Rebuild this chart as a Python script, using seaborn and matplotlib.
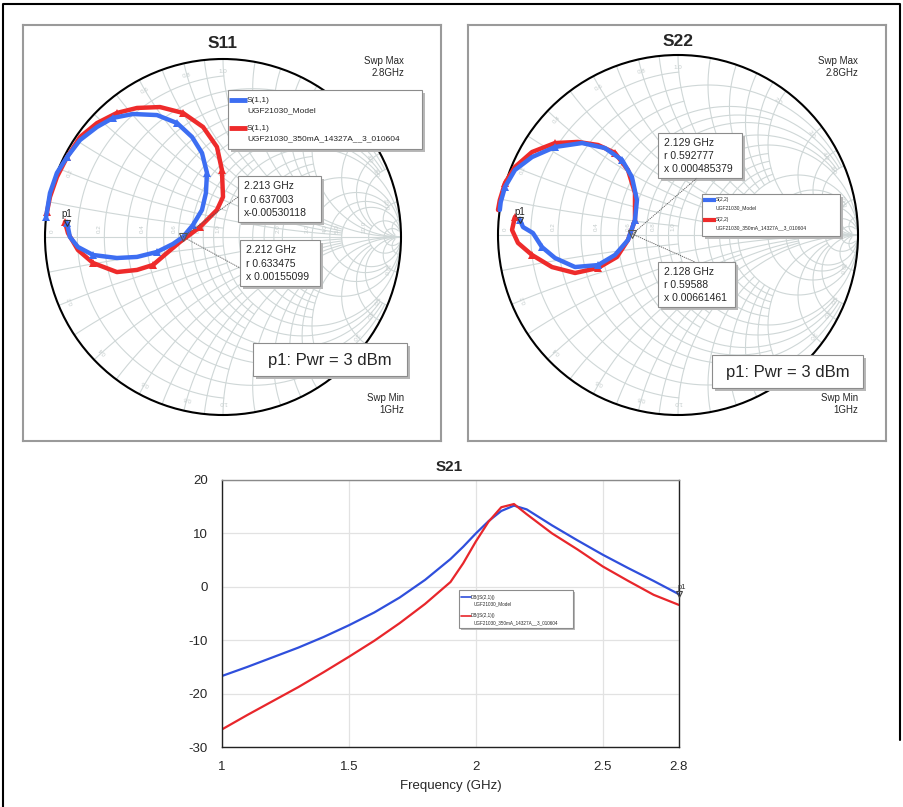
import numpy as np
import pandas as pd
import matplotlib
matplotlib.use('Agg')
import matplotlib.pyplot as plt
import seaborn as sns
from matplotlib.patches import Rectangle, Circle

W, H = 904, 807

s11_model_re = [-0.876, -0.860, -0.815, -0.730, -0.596, -0.483, -0.371, -0.281, -0.225, -0.169, -0.118, -0.096,
                -0.090, -0.118, -0.174, -0.258, -0.371, -0.506, -0.618, -0.708, -0.803, -0.876, -0.933, -0.972, -0.994]
s11_model_im = [0.079, 0.000, -0.056, -0.101, -0.118, -0.112, -0.084, -0.039, 0.000, 0.067, 0.152, 0.247,
                0.360, 0.472, 0.562, 0.640, 0.685, 0.691, 0.669, 0.618, 0.545, 0.449, 0.360, 0.247, 0.112]
s11_meas_re = [-0.888, -0.871, -0.815, -0.730, -0.596, -0.483, -0.393, -0.315, -0.242, -0.129, -0.034, 0.000,
               -0.006, -0.034, -0.112, -0.225, -0.354, -0.483, -0.596, -0.708, -0.803, -0.876, -0.933, -0.972, -0.989]
s11_meas_im = [0.084, 0.022, -0.073, -0.146, -0.197, -0.185, -0.157, -0.090, -0.028, 0.056, 0.152, 0.225,
               0.376, 0.506, 0.618, 0.697, 0.730, 0.725, 0.697, 0.640, 0.562, 0.449, 0.337, 0.225, 0.140]

# S22
s22_model_re = [-0.878, -0.861, -0.806, -0.756, -0.683, -0.572, -0.444, -0.350, -0.278, -0.239, -0.228,
                -0.256, -0.311, -0.406, -0.533, -0.683, -0.811, -0.906, -0.961, -0.985, -0.990]
s22_model_im = [0.083, 0.044, 0.011, -0.067, -0.128, -0.178, -0.167, -0.111, -0.028, 0.083, 0.194,
                0.322, 0.417, 0.483, 0.511, 0.489, 0.433, 0.361, 0.267, 0.183, 0.139]
s22_meas_re = [-0.906, -0.922, -0.889, -0.811, -0.700, -0.572, -0.444, -0.339, -0.278, -0.239, -0.239,
               -0.278, -0.350, -0.444, -0.556, -0.683, -0.811, -0.906, -0.961, -0.990, -1.000]
s22_meas_im = [0.100, 0.028, -0.044, -0.111, -0.178, -0.211, -0.183, -0.122, -0.028, 0.083, 0.233,
               0.361, 0.456, 0.500, 0.517, 0.511, 0.461, 0.378, 0.289, 0.194, 0.139]

# marker readouts (normalised r, x)
s11_markers = [('2.213 GHz', 0.637003, -0.00530118), ('2.212 GHz', 0.633475, 0.00155099)]
s22_markers = [('2.129 GHz', 0.592777, 0.000485379), ('2.128 GHz', 0.59588, 0.00661461)]

# S21 in dB
freq_ghz = [1.0, 1.1, 1.2, 1.3, 1.4, 1.5, 1.6, 1.7, 1.8, 1.9, 1.95, 2.0, 2.05, 2.1, 2.15,
            2.2, 2.3, 2.4, 2.5, 2.6, 2.7, 2.8]
s21_model_db = [-16.7, -15.0, -13.2, -11.4, -9.4, -7.2, -4.8, -2.0, 1.3, 5.2, 7.5, 10.0, 12.3, 14.2, 15.2,
                14.5, 11.5, 8.7, 6.0, 3.5, 1.1, -1.4]
s21_meas_db = [-26.7, -24.0, -21.4, -18.8, -16.0, -13.1, -10.1, -6.8, -3.2, 0.9, 4.4, 8.5, 12.2, 14.9, 15.5,
               13.6, 10.0, 7.0, 3.8, 1.1, -1.5, -3.4]
trace_names = ['UGF21030_Model', 'UGF21030_350mA_14327A__3_010604']

BLUE = '#3d6ef2'
RED = '#ee2b2b'
GRID = '#cfd7d7'
LABEL = '#c4cccc'

R_GRID = [(0.1, 1), (0.2, 5), (0.3, 1), (0.4, 5), (0.5, 2), (0.6, 5), (0.7, 1), (0.8, 5), (0.9, 1),
          (1.0, np.inf), (1.2, 2), (1.4, 2), (1.6, 2), (1.8, 2), (2.0, np.inf), (3.0, 10), (4.0, 10),
          (5.0, np.inf), (10.0, np.inf), (20.0, 50)]
X_GRID = [(0.1, 1), (0.2, 5), (0.3, 1), (0.4, 5), (0.5, 2), (0.6, 5), (0.7, 1), (0.8, 5), (0.9, 1),
          (1.0, np.inf), (1.2, 2), (1.4, 2), (1.6, 2), (1.8, 2), (2.0, np.inf), (3.0, 10), (4.0, 10),
          (5.0, np.inf), (10.0, np.inf), (20.0, 50)]
LABELLED = [0.2, 0.4, 0.6, 0.8, 1.0, 2.0, 3.0, 4.0, 5.0, 10.0]

sns.set_style('white')
plt.rcParams['font.family'] = ['Liberation Sans', 'DejaVu Sans']
plt.rcParams['axes.unicode_minus'] = False

fig = plt.figure(figsize=(W / 100, H / 100), dpi=100)


def fig_rect(x0, y0, x1, y1):
    return [x0 / W, 1 - y1 / H, (x1 - x0) / W, (y1 - y0) / H]


def gamma(z):
    return (z - 1) / (z + 1)


def smith_axes(panel, centre, radius, hidden_r=()):
    x0, y0, x1, y1 = panel
    cx, cy = centre
    ax = fig.add_axes(fig_rect(*panel))
    ax.set_xlim((x0 - cx) / radius, (x1 - cx) / radius)
    ax.set_ylim((cy - y1) / radius, (cy - y0) / radius)
    ax.set_xticks([])
    ax.set_yticks([])
    for s in ax.spines.values():
        s.set_color('#9a9a9a')
        s.set_linewidth(1.5)
    for r, xm in R_GRID:
        t = np.linspace(-np.arctan(xm), np.arctan(xm), 400)
        g = gamma(r + 1j * np.tan(t))
        ax.plot(g.real, g.imag, color=GRID, lw=0.8, zorder=1)
    for x, rm in X_GRID:
        t = np.linspace(0, np.arctan(rm), 300)
        for sgn in (1, -1):
            g = gamma(np.tan(t) + 1j * sgn * x)
            ax.plot(g.real, g.imag, color=GRID, lw=0.8, zorder=1)
    ax.plot([-1, 1], [0, 0], color=GRID, lw=0.8, zorder=1)
    ax.text(-0.96, 0.02, '0', rotation=90, fontsize=4.5, color=LABEL, ha='center', va='bottom')
    for v in LABELLED:
        if v not in hidden_r:  # these sit under the legend box
            g = gamma(v)
            ax.text(g.real - 0.012, 0.02, f'{v:.1f}', rotation=90, fontsize=4.5, color=LABEL,
                    ha='right', va='bottom')
        for sgn in (1, -1):
            g = gamma(1j * sgn * v)
            ang = np.degrees(np.angle(g))
            ax.text(0.93 * g.real, 0.93 * g.imag, f'{v:.1f}', rotation=ang - 90, fontsize=4.5,
                    color=LABEL, ha='center', va='center', rotation_mode='anchor')
    ax.add_patch(Circle((0, 0), 1, fill=False, ec='black', lw=1.5, zorder=3))
    return ax


def smith_traces(ax, model_re, model_im, meas_re, meas_im):
    sns.lineplot(x=meas_re, y=meas_im, sort=False, estimator=None, color=RED, lw=3.2, ax=ax,
                 marker='^', markevery=3, markersize=6, markeredgewidth=0, zorder=4)
    sns.lineplot(x=model_re, y=model_im, sort=False, estimator=None, color=BLUE, lw=3.2, ax=ax,
                 marker='^', markevery=3, markersize=6, markeredgewidth=0, zorder=5)
    ax.plot(model_re[0], model_im[0], marker='v', mfc='none', mec='#333333', ms=5, mew=0.8, zorder=6)
    ax.annotate('p1', (model_re[0], model_im[0]), xytext=(-4, 4), textcoords='offset points',
                fontsize=7, color='#222222', zorder=6)


def to_px(ax, x, y):
    dx, dy = ax.transData.transform((x, y))
    return dx, H - dy


ax11 = smith_axes((23, 25, 441, 441), (223, 237), 178)
smith_traces(ax11, s11_model_re, s11_model_im, s11_meas_re, s11_meas_im)
ax22 = smith_axes((468, 25, 886, 441), (678, 235), 180, hidden_r=(2.0, 3.0, 4.0, 5.0, 10.0))
smith_traces(ax22, s22_model_re, s22_model_im, s22_meas_re, s22_meas_im)

mk_px = []
for ax, markers in ((ax11, s11_markers), (ax22, s22_markers)):
    g = gamma(markers[1][1] + 1j * markers[1][2])
    ax.plot(g.real, g.imag, marker='v', mfc='none', mec='#555555', ms=6, mew=0.8, zorder=6)
    mk_px.append(to_px(ax, g.real, g.imag))

# S21 rectangular plot
ax3 = fig.add_axes(fig_rect(222, 480, 679, 747))
df21 = pd.DataFrame({
    'freq': freq_ghz * 2,
    'db': s21_model_db + s21_meas_db,
    'trace': [trace_names[0]] * len(freq_ghz) + [trace_names[1]] * len(freq_ghz),
})
sns.lineplot(data=df21, x='freq', y='db', hue='trace', palette=['#2f4fdc', '#e8262b'], lw=1.6,
             legend=False, ax=ax3)
ax3.set_xlim(1, 2.8)
ax3.set_ylim(-30, 20)
ax3.set_xticks([1, 1.5, 2, 2.5, 2.8])
ax3.set_xticklabels(['1', '1.5', '2', '2.5', '2.8'])
ax3.set_yticks([-30, -20, -10, 0, 10, 20])
ax3.grid(True, color='#e2e2e2', lw=0.9)
ax3.tick_params(length=0, labelsize=9.5, pad=10)
ax3.set_xlabel('Frequency (GHz)', fontsize=9.5, labelpad=5)
ax3.set_ylabel('')
for side, s in ax3.spines.items():
    s.set_color('#8a8a8a' if side == 'top' else '#222222')
    s.set_linewidth(1.0)
ax3.plot(freq_ghz[-1], s21_model_db[-1], marker='v', mfc='none', mec='#444444', ms=5, mew=0.8,
         clip_on=False, zorder=6)
ax3.annotate('p1', (freq_ghz[-1], s21_model_db[-1]), xytext=(-1, 4), textcoords='offset points',
             fontsize=5.5, color='#333333', annotation_clip=False)

# overlay in pixel coordinates for frames, boxes and labels
ov = fig.add_axes([0, 0, 1, 1])
ov.set_xlim(0, W)
ov.set_ylim(H, 0)
ov.axis('off')
ov.patch.set_alpha(0)

ov.plot([3, 3, 900, 900], [807, 4, 4, 740], color='black', lw=1.5)


def shadow_box(x0, y0, x1, y1, off=3):
    ov.add_patch(Rectangle((x0 + off, y0 + off), x1 - x0, y1 - y0, fc='#b8b8b8', ec='none'))
    ov.add_patch(Rectangle((x0, y0), x1 - x0, y1 - y0, fc='white', ec='#8c8c8c', lw=0.8))


for x, y, t in ((223, 43, 'S11'), (678, 41, 'S22')):
    ov.text(x, y, t, ha='center', va='center', fontsize=12.5, fontweight='bold')
ov.text(449, 467, 'S21', ha='center', va='center', fontsize=11, fontweight='bold')

for xr in (404, 858):
    ov.text(xr, 67, 'Swp Max\n2.8GHz', ha='right', va='center', fontsize=7, linespacing=1.35)
    ov.text(xr, 404, 'Swp Min\n1GHz', ha='right', va='center', fontsize=7, linespacing=1.35)

# S11 legend
shadow_box(228, 90, 422, 149)
for y, c in ((100, BLUE), (128, RED)):
    ov.plot([229, 247], [y, y], color=c, lw=3.5, solid_capstyle='butt')
    ov.text(247, y, 'S(1,1)', fontsize=6, va='center')
ov.text(247, 111, trace_names[0], fontsize=6, va='center')
ov.text(247, 139, trace_names[1], fontsize=6, va='center')

# S22 legend
shadow_box(702, 194, 840, 236)
for y, c in ((200, BLUE), (220, RED)):
    ov.plot([703, 716], [y, y], color=c, lw=3, solid_capstyle='butt')
    ov.text(716, y, 'S(2,2)', fontsize=3.6, va='center')
ov.text(716, 208, trace_names[0], fontsize=3.6, va='center')
ov.text(716, 228, trace_names[1], fontsize=3.6, va='center')

# marker readout boxes
boxes = [
    (s11_markers, [(238, 176, 321, 222), (240, 240, 320, 286)], [(238, 197), (240, 268)], mk_px[0]),
    (s22_markers, [(658, 133, 742, 178), (658, 262, 735, 307)], [(697, 178), (695, 262)], mk_px[1]),
]
for markers, rects, ends, (mx, my) in boxes:
    for (label, r, x), (x0, y0, x1, y1), (ex, ey) in zip(markers, rects, ends):
        ov.plot([mx, ex], [my, ey], color='#555555', lw=0.6, ls=(0, (1.5, 1)))
        shadow_box(x0, y0, x1, y1)
        xs = f'x{x:.9g}' if x < 0 else f'x {x:.9g}'
        lines = [label, f'r {r:.9g}', xs]
        step = (y1 - y0) / 3.4
        for i, t in enumerate(lines):
            ov.text(x0 + 6, y0 + step * (i + 0.75), t, fontsize=7.5, va='center')

# power annotation
for x0, y0, x1, y1 in ((253, 343, 407, 376), (712, 355, 863, 388)):
    shadow_box(x0, y0, x1, y1)
    ov.text((x0 + x1) / 2, (y0 + y1) / 2 + 1, 'p1: Pwr = 3 dBm', ha='center', va='center', fontsize=12)

# S21 legend
shadow_box(459, 590, 573, 628, off=2)
for y, c in ((597, '#2f4fdc'), (616, '#e8262b')):
    ov.plot([461, 471], [y, y], color=c, lw=1.2)
    ov.text(471, y, 'DB(|S(2,1)|)', fontsize=3.3, va='center')
ov.text(474, 604, trace_names[0], fontsize=3.3, va='center')
ov.text(474, 623, trace_names[1], fontsize=3.3, va='center')

fig.savefig('out.png', dpi=100)
